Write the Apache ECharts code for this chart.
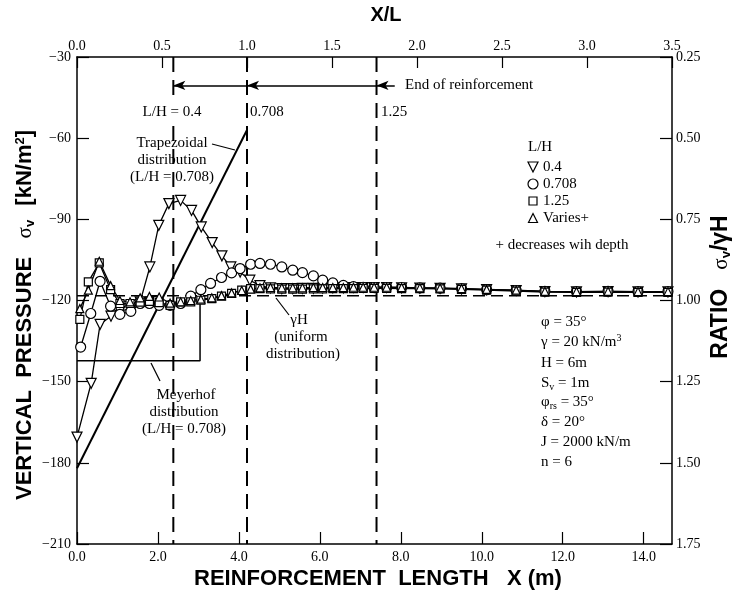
<!DOCTYPE html>
<html>
<head>
<meta charset="utf-8">
<script src="https://cdn.jsdelivr.net/npm/echarts@6/dist/echarts.min.js"></script>
<style>
  html, body { margin: 0; padding: 0; background: #fff; }
  #chart { width: 736px; height: 597px; }
</style>
</head>
<body>
<div id="chart"></div>
<script>
// X (m) vs vertical pressure (kN/m2)
const lh04 = [[0,-170.5],[0.35,-150.6],[0.57,-128.8],[0.84,-125.8],[1.06,-123.9],[1.33,-123],[1.56,-120.5],[1.8,-107.6],[2.02,-92.2],[2.27,-84.2],[2.56,-83],[2.83,-86.7],[3.07,-92.8],[3.34,-98.6],[3.58,-103.5],[3.8,-107.6],[4.03,-109.5],[4.27,-112.5],[4.52,-114.5],[4.78,-115.3],[5.06,-115.6],[5.33,-115.6],[5.57,-115.5],[5.84,-115.5],[6.07,-115.4],[6.32,-115.3],[6.58,-115.3],[6.83,-115.2],[7.07,-115.2],[7.34,-115.2],[7.65,-115.2],[8.02,-115.3],[8.47,-115.4],[8.97,-115.5],[9.5,-115.7],[10.12,-116],[10.85,-116.3],[11.56,-116.7],[12.34,-116.8],[13.12,-116.7],[13.86,-116.8],[14.6,-116.8]]
const lh0708 = [[0.09,-137.2],[0.34,-124.8],[0.57,-112.9],[0.83,-122.1],[1.06,-125.1],[1.33,-124],[1.56,-121.1],[1.79,-121.1],[2.03,-121.8],[2.3,-121.8],[2.56,-121.1],[2.81,-118.4],[3.06,-116],[3.3,-113.7],[3.57,-111.5],[3.82,-109.8],[4.03,-108.2],[4.29,-106.6],[4.52,-106.3],[4.78,-106.6],[5.06,-107.6],[5.33,-108.8],[5.57,-109.7],[5.84,-110.9],[6.07,-112.5],[6.32,-113.5],[6.58,-114.4],[6.83,-114.9],[7.07,-115.1],[7.34,-115.2],[7.65,-115.2],[8.02,-115.2],[8.47,-115.3],[8.97,-115.4],[9.5,-115.6],[10.12,-116],[10.85,-116.3],[11.56,-116.6],[12.34,-116.7],[13.12,-116.6],[13.86,-116.7],[14.6,-116.7]]
const lh125 = [[0.07,-127],[0.28,-113.1],[0.55,-106.1],[0.83,-116],[1.06,-121.1],[1.31,-121.1],[1.56,-120.6],[1.79,-120.3],[2.03,-120.8],[2.3,-121.8],[2.56,-120.5],[2.81,-120.5],[3.06,-119.9],[3.33,-119.3],[3.57,-118.4],[3.82,-117.4],[4.07,-116.2],[4.29,-115.6],[4.52,-115.6],[4.78,-115.7],[5.06,-115.8],[5.33,-115.8],[5.57,-115.8],[5.84,-115.7],[6.07,-115.7],[6.32,-115.6],[6.58,-115.6],[6.83,-115.6],[7.07,-115.5],[7.34,-115.5],[7.65,-115.5],[8.02,-115.6],[8.47,-115.6],[8.97,-115.7],[9.5,-115.9],[10.12,-116.2],[10.85,-116.5],[11.56,-116.9],[12.34,-117],[13.12,-116.9],[13.86,-117],[14.6,-117]]
const lhVaries = [[0.07,-123],[0.28,-116.2],[0.55,-105.5],[0.83,-114.5],[1.06,-120],[1.31,-120.5],[1.56,-119],[1.79,-118.5],[2.03,-118.7],[2.3,-121],[2.56,-120.5],[2.81,-120],[3.06,-119.5],[3.33,-119],[3.57,-118.2],[3.82,-117.2],[4.07,-116.3],[4.29,-115.8],[4.52,-115.3],[4.78,-115.2],[5.06,-115.3],[5.33,-115.3],[5.57,-115.3],[5.84,-115.2],[6.07,-115.2],[6.32,-115.2],[6.58,-115.2],[6.83,-115.1],[7.07,-115.1],[7.34,-115.1],[7.65,-115.1],[8.02,-115.2],[8.47,-115.3],[8.97,-115.4],[9.5,-115.6],[10.12,-115.9],[10.85,-116.2],[11.56,-116.6],[12.34,-116.7],[13.12,-116.6],[13.86,-116.7],[14.6,-116.7]]
const trapezoid = [[0,-182],[4.2,-57]]
const meyerhof = [[0,-142.3],[3.04,-142.3],[3.04,-119]]
const uniformGH = [[0,-118.2],[14.7,-118.2]]
const reinfEnds = [2.38, 4.2, 7.4]
const arrowLevel = -40.5

const chart = echarts.init(document.getElementById('chart'))
const serif = 'Liberation Serif'
const sans = 'Liberation Sans'
const minus = (s) => String(s).replace('-', '\u2212')

const markerSeries = (name, data, symbol, size, rotate) => ({
  name,
  type: 'line',
  data,
  symbol,
  symbolSize: size,
  symbolRotate: rotate || 0,
  showAllSymbol: true,
  lineStyle: { color: '#000', width: 1.3 },
  itemStyle: { color: '#fff', borderColor: '#000', borderWidth: 1.2 },
  z: 5
})

const plainLine = (data, width, type) => ({
  type: 'line',
  data,
  symbol: 'none',
  lineStyle: { color: '#000', width, type: type || 'solid' },
  z: 3
})

const series = [
  plainLine(uniformGH, 1.5, [12, 6]),
  plainLine(trapezoid, 2),
  plainLine(meyerhof, 1.5),
  ...reinfEnds.map(x => plainLine([[x, -30], [x, -210]], 2, [15, 8])),
  markerSeries('0.4', lh04, 'triangle', 10, 180),
  markerSeries('0.708', lh0708, 'circle', 10),
  markerSeries('1.25', lh125, 'rect', 8),
  markerSeries('Varies+', lhVaries, 'triangle', 8)
]

// arrows pointing back to each end of reinforcement
series.push({
  type: 'line',
  data: [],
  markLine: {
    silent: true,
    symbol: ['arrow', 'none'],
    symbolSize: [7, 12],
    label: { show: false },
    lineStyle: { color: '#000', width: 1.5, type: 'solid' },
    data: [
      [{ coord: [reinfEnds[0], arrowLevel] }, { coord: [reinfEnds[1], arrowLevel] }],
      [{ coord: [reinfEnds[1], arrowLevel] }, { coord: [reinfEnds[2], arrowLevel] }],
      [{ coord: [reinfEnds[2], arrowLevel] }, { coord: [7.85, arrowLevel] }]
    ]
  }
})

const txt = (x, y, text, opts) => ({
  type: 'text',
  x,
  y,
  z: 20,
  style: Object.assign({
    text,
    fill: '#000',
    font: '15px "' + serif + '"',
    align: 'left',
    verticalAlign: 'middle'
  }, opts || {})
})

const leader = (x1, y1, x2, y2) => ({
  type: 'line',
  z: 20,
  shape: { x1, y1, x2, y2 },
  style: { stroke: '#000', lineWidth: 1.2 }
})

const graphic = [
  txt(386, 15, 'X/L', { align: 'center', font: 'bold 20px "' + sans + '"' }),
  txt(378, 579, 'REINFORCEMENT  LENGTH   X (m)', { align: 'center', font: 'bold 22px "' + sans + '"' }),
  {
    type: 'text', x: 25, y: 315, rotation: Math.PI / 2, z: 20,
    style: {
      text: '{b|VERTICAL  PRESSURE   }{s|σ}{v|v}{b|  [kN/m}{sup|2}{b|]}',
      align: 'center', verticalAlign: 'middle', fill: '#000',
      rich: {
        b: { font: 'bold 22px "' + sans + '"' },
        s: { font: '21px "' + serif + '"' },
        v: { font: 'bold 13px "' + sans + '"', padding: [10, 2, 0, 0] },
        sup: { font: 'bold 13px "' + sans + '"', padding: [0, 0, 10, 0] }
      }
    }
  },
  {
    type: 'text', x: 721, y: 287, rotation: Math.PI / 2, z: 20,
    style: {
      text: '{b|RATIO   }{s|σ}{v|v}{b|/γH}',
      align: 'center', verticalAlign: 'middle', fill: '#000',
      rich: {
        b: { font: 'bold 23px "' + sans + '"' },
        s: { font: '21px "' + serif + '"' },
        v: { font: 'bold 13px "' + sans + '"', padding: [10, 0, 0, 0] }
      }
    }
  },
  txt(405, 85, 'End of reinforcement'),
  txt(172, 112, 'L/H = 0.4', { align: 'center', backgroundColor: '#fff', padding: [2, 2] }),
  txt(250, 112, '0.708'),
  txt(381, 112, '1.25'),
  txt(172, 143, 'Trapezoidal', { align: 'center' }),
  txt(172, 160, 'distribution', { align: 'center' }),
  txt(172, 177, '(L/H = 0.708)', { align: 'center' }),
  leader(212, 144, 235, 150),
  txt(299, 320, 'γH', { align: 'center' }),
  txt(301, 337, '(uniform', { align: 'center' }),
  txt(303, 354, 'distribution)', { align: 'center' }),
  leader(276, 298, 289, 315),
  txt(186, 395, 'Meyerhof', { align: 'center' }),
  txt(184, 412, 'distribution', { align: 'center' }),
  txt(184, 429, '(L/H = 0.708)', { align: 'center' }),
  leader(151, 363, 160, 381),
  txt(528, 147, 'L/H'),
  txt(543, 167, '0.4'),
  txt(543, 184, '0.708'),
  txt(543, 201, '1.25'),
  txt(543, 218, 'Varies+'),
  txt(562, 245, '+ decreases wih depth', { align: 'center' }),
  txt(541, 322, 'φ = 35°'),
  {
    type: 'text', x: 541, y: 342, z: 20,
    style: {
      text: 'γ = 20 kN/m{sup|3}', fill: '#000', font: '15px "' + serif + '"', verticalAlign: 'middle',
      rich: { sup: { font: '10px "' + serif + '"', padding: [0, 0, 8, 0] } }
    }
  },
  txt(541, 363, 'H = 6m'),
  {
    type: 'text', x: 541, y: 383, z: 20,
    style: {
      text: 'S{sub|v} = 1m', fill: '#000', font: '15px "' + serif + '"', verticalAlign: 'middle',
      rich: { sub: { font: '10px "' + serif + '"', padding: [8, 0, 0, 0] } }
    }
  },
  {
    type: 'text', x: 541, y: 402, z: 20,
    style: {
      text: 'φ{sub|rs} = 35°', fill: '#000', font: '15px "' + serif + '"', verticalAlign: 'middle',
      rich: { sub: { font: '10px "' + serif + '"', padding: [8, 0, 0, 0] } }
    }
  },
  txt(541, 422, 'δ = 20°'),
  txt(541, 442, 'J = 2000 kN/m'),
  txt(541, 462, 'n = 6')
]

// legend keys, same shapes as the series markers
const legendSymbols = [
  { y: 167, symbol: 'triangle', rot: 180, size: 10 },
  { y: 184, symbol: 'circle', rot: 0, size: 10 },
  { y: 201, symbol: 'rect', rot: 0, size: 8 },
  { y: 218, symbol: 'triangle', rot: 0, size: 9 }
]

const keyShape = (s) => {
  if (s.symbol === 'circle') return { type: 'circle', shape: { cx: 0, cy: 0, r: s.size / 2 } }
  if (s.symbol === 'rect') return { type: 'rect', shape: { x: -s.size / 2, y: -s.size / 2, width: s.size, height: s.size } }
  return { type: 'polygon', shape: { points: [[0, -s.size / 2], [s.size / 2, s.size / 2], [-s.size / 2, s.size / 2]] } }
}

chart.setOption({
  animation: false,
  backgroundColor: '#fff',
  grid: { left: 77, right: 64, top: 57, bottom: 53 },
  xAxis: [
    {
      type: 'value', min: 0, max: 14.7, interval: 2, position: 'bottom',
      axisLine: { onZero: false, lineStyle: { color: '#000', width: 1.5 } },
      axisTick: { inside: true, length: 12, lineStyle: { color: '#000', width: 1.2 } },
      axisLabel: { showMaxLabel: false, color: '#000', fontFamily: serif, fontSize: 14, margin: 6, formatter: v => v.toFixed(1) },
      splitLine: { show: false }
    },
    {
      type: 'value', min: 0, max: 3.5, interval: 0.5, position: 'top',
      axisLine: { onZero: false, lineStyle: { color: '#000', width: 1.5 } },
      axisTick: { inside: true, length: 11, lineStyle: { color: '#000', width: 1.2 } },
      axisLabel: { color: '#000', fontFamily: serif, fontSize: 14, margin: 4, formatter: v => v.toFixed(1) },
      splitLine: { show: false }
    }
  ],
  yAxis: [
    {
      type: 'value', min: -210, max: -30, interval: 30, position: 'left',
      axisLine: { onZero: false, lineStyle: { color: '#000', width: 1.5 } },
      axisTick: { inside: true, length: 12, lineStyle: { color: '#000', width: 1.2 } },
      axisLabel: { color: '#000', fontFamily: serif, fontSize: 14, margin: 6, formatter: v => minus(v) },
      splitLine: { show: false }
    },
    {
      type: 'value', min: 0.25, max: 1.75, interval: 0.25, inverse: true, position: 'right',
      axisLine: { onZero: false, lineStyle: { color: '#000', width: 1.5 } },
      axisTick: { inside: true, length: 12, lineStyle: { color: '#000', width: 1.2 } },
      axisLabel: { color: '#000', fontFamily: serif, fontSize: 14, margin: 4, formatter: v => v.toFixed(2) },
      splitLine: { show: false }
    }
  ],
  series,
  graphic: graphic.concat(legendSymbols.map(s => ({
    type: 'group', x: 533, y: s.y, z: 20, rotation: s.rot * Math.PI / 180,
    children: [Object.assign(keyShape(s), { style: { fill: '#fff', stroke: '#000', lineWidth: 1.2 } })]
  })))
})
</script>
</body>
</html>
